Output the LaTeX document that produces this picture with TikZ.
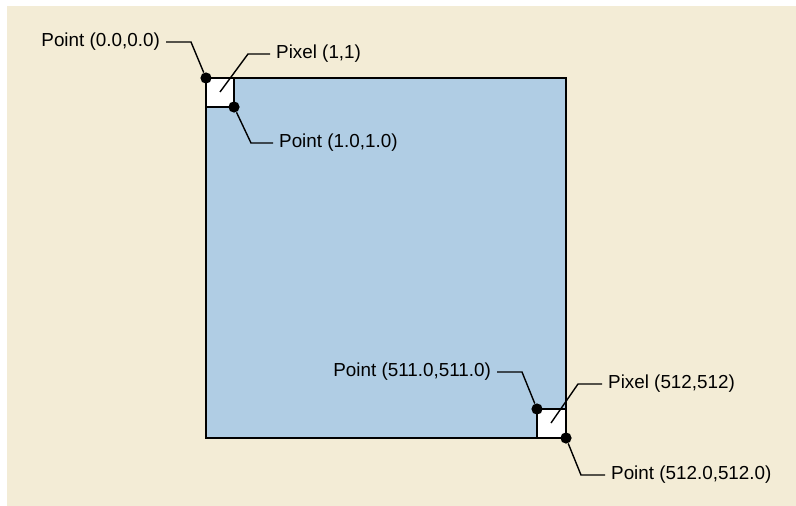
\documentclass[tikz,border=0pt]{standalone}
\usepackage{fontspec}
\setmainfont{Liberation Sans}
\definecolor{paper}{RGB}{243,236,214}
\definecolor{image}{RGB}{176,205,228}
\tikzset{
	dot/.style={circle, fill=black, inner sep=0pt, minimum size=0.28cm},
	label/.style={inner xsep=4.2pt, inner ysep=0pt, font=\fontsize{13.4}{16}\selectfont},
	leader/.style={line width=1pt},
	edge/.style={line width=1.4pt}
}

\begin{document}
\begin{tikzpicture}[x=0.025cm,y=-0.025cm]
	\path[use as bounding box, fill=white] (0,0) rectangle (796,506);
	\fill[paper] (7,6) rectangle (796,506);
	
	% the image, with its first and last pixel
	\fill[image] (206,78) rectangle (566,438);
	\fill[white] (206,78) rectangle (234,107);
	\fill[white] (537,409) rectangle (566,438);
	\draw[edge] (206,78) rectangle (566,438);
	\draw[edge] (206,107) -- (234,107) -- (234,78);
	\draw[edge] (537,438) -- (537,409) -- (566,409);
	
	% corner points
	\node[dot] (d00) at (206,78) {};
	\node[dot] (d11) at (234,107) {};
	\node[dot] (d511) at (537,409) {};
	\node[dot] (d512) at (566,438) {};
	\coordinate (c11) at (220,92);
	\coordinate (c512) at (551,423);
	
	% labels
	\node[label, anchor=east] (p00) at (166,42) {Point (0.0,0.0)};
	\node[label, anchor=west] (px11) at (270,54) {Pixel (1,1)};
	\node[label, anchor=west] (p11) at (273,143) {Point (1.0,1.0)};
	\node[label, anchor=east] (p511) at (497,372) {Point (511.0,511.0)};
	\node[label, anchor=west] (px512) at (602,384) {Pixel (512,512)};
	\node[label, anchor=west] (p512) at (605,475) {Point (512.0,512.0)};
	
	% leaders
	\draw[leader] (p00.east) -- ++(25,0) -- (d00);
	\draw[leader] (px11.west) -- ++(-22,0) -- (c11);
	\draw[leader] (p11.west) -- ++(-22,0) -- (d11);
	\draw[leader] (p511.east) -- ++(25,0) -- (d511);
	\draw[leader] (px512.west) -- ++(-24,0) -- (c512);
	\draw[leader] (p512.west) -- ++(-24,0) -- (d512);
\end{tikzpicture}
\end{document}
